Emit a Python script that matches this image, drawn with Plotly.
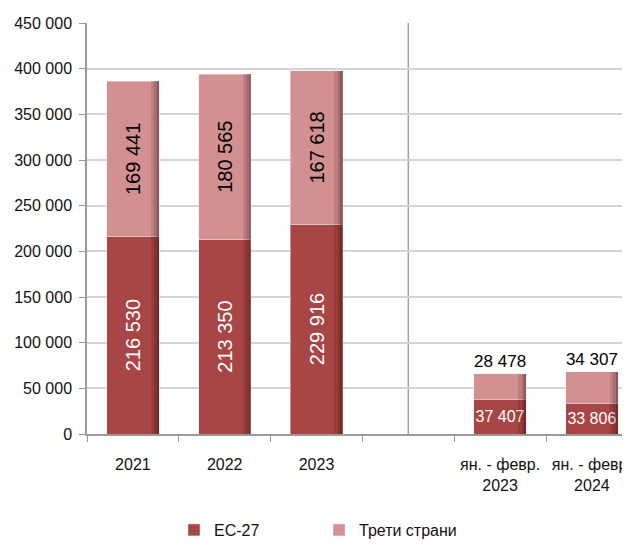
import plotly.graph_objects as go

# --------------------------------------------------------------------------- #
# Data
# --------------------------------------------------------------------------- #
CATEGORIES = ["2021", "2022", "2023", " ", "ян. - февр.<br>2023", "ян. - февр.<br>2024"]

YEARS = ["2021", "2022", "2023"]
EU_YEARS = [216530, 213350, 229916]
THIRD_YEARS = [169441, 180565, 167618]

PERIODS = ["ян. - февр.<br>2023", "ян. - февр.<br>2024"]
EU_PERIODS = [37407, 33806]
THIRD_PERIODS = [28478, 34307]

SEPARATOR = " "

# --------------------------------------------------------------------------- #
# Style
# --------------------------------------------------------------------------- #
EU_COLOR = "#a84545"
THIRD_COLOR = "#d39090"
GRID_COLOR = "#d4d4d4"
AXIS_COLOR = "#9a9a9a"
FONT = "Liberation Sans, Arial, sans-serif"
TEXT_COLOR = "#111111"
BAR_WIDTH = 0.57
PAGE_MARGIN = 8   # default <body> margin of the html page
# (width in category units, darkening alpha) of the shading strips on the right bar edge
SHADE_STRIPS = [(0.09, 0.12), (0.05, 0.15), (0.025, 0.2)]


def _fmt(v):
    return f"{v:,}".replace(",", " ")


fig = go.Figure()

# annual bars: rotated labels inside
fig.add_bar(
    x=YEARS, y=EU_YEARS, name="ЕС-27", marker_color=EU_COLOR, width=BAR_WIDTH,
    text=[_fmt(v) for v in EU_YEARS], textposition="inside", textangle=-90,
    insidetextanchor="middle", constraintext="none",
    textfont=dict(family=FONT, size=20, color="white"),
    legendgroup="eu", showlegend=True,
)
# monthly bars: horizontal labels
fig.add_bar(
    x=PERIODS, y=EU_PERIODS, name="ЕС-27", marker_color=EU_COLOR, width=BAR_WIDTH,
    text=[_fmt(v) for v in EU_PERIODS], textposition="inside", textangle=0,
    insidetextanchor="middle", constraintext="none",
    textfont=dict(family=FONT, size=16, color="white"),
    legendgroup="eu", showlegend=False,
)
fig.add_bar(
    x=YEARS, y=THIRD_YEARS, name="Трети страни", marker_color=THIRD_COLOR, width=BAR_WIDTH,
    text=[_fmt(v) for v in THIRD_YEARS], textposition="inside", textangle=-90,
    insidetextanchor="middle", constraintext="none",
    textfont=dict(family=FONT, size=20, color="black"),
    legendgroup="third", showlegend=True,
)
fig.add_bar(
    x=PERIODS, y=THIRD_PERIODS, name="Трети страни", marker_color=THIRD_COLOR, width=BAR_WIDTH,
    text=[_fmt(v) for v in THIRD_PERIODS], textposition="outside", textangle=0,
    constraintext="none", cliponaxis=False,
    textfont=dict(family=FONT, size=17, color="black"),
    legendgroup="third", showlegend=False,
)

plot_left, plot_right = 87, 630
cat_px = 91.8
x_range = [-0.5, -0.5 + (plot_right - plot_left) / cat_px]

# darker strips on the right edge of every bar (the "3D" shading of the original);
# each strip level sits on its own hidden overlaying x axis so it stacks on its own
for i, (stripe_w, alpha) in enumerate(SHADE_STRIPS, start=2):
    for xs, eu, third in [(YEARS, EU_YEARS, THIRD_YEARS), (PERIODS, EU_PERIODS, THIRD_PERIODS)]:
        for vals in (eu, third):
            fig.add_bar(
                x=xs, y=vals, xaxis=f"x{i}", width=stripe_w,
                offset=BAR_WIDTH / 2 - stripe_w,
                marker=dict(color=f"rgba(50,0,0,{alpha})", line_width=0),
                showlegend=False, hoverinfo="skip",
            )
    fig.update_layout({f"xaxis{i}": dict(
        type="category", categoryorder="array", categoryarray=CATEGORIES,
        range=x_range, overlaying="x", visible=False,
    )})

# separator between annual and monthly data
sep = CATEGORIES.index(SEPARATOR)
fig.add_shape(
    type="line", xref="x", yref="paper", x0=sep, x1=sep, y0=0, y1=1,
    line=dict(color="#a0a0a0", width=1.5), layer="below",
)

fig.update_layout(
    barmode="stack",
    width=630 - PAGE_MARGIN, height=547 - PAGE_MARGIN,
    margin=dict(l=plot_left - PAGE_MARGIN, r=0, t=23 - PAGE_MARGIN, b=113),
    paper_bgcolor="white", plot_bgcolor="white",
    separators=". ",
    font=dict(family=FONT, size=16, color=TEXT_COLOR),
    legend=dict(
        orientation="h", xref="container", yref="container",
        x=0.5, xanchor="center", y=0.0, yanchor="bottom",
        font=dict(family=FONT, size=16, color=TEXT_COLOR),
        traceorder="normal", itemwidth=30,
        entrywidth=100, entrywidthmode="pixels",
    ),
    xaxis=dict(
        type="category", categoryorder="array", categoryarray=CATEGORIES,
        range=x_range,
        tickson="boundaries", ticks="outside", ticklen=6, tickcolor=AXIS_COLOR,
        showline=True, linecolor=AXIS_COLOR, linewidth=1.5,
        showgrid=False, ticklabelstandoff=15, tickangle=0, automargin=False,
        tickfont=dict(family=FONT, size=16, color=TEXT_COLOR),
    ),
    yaxis=dict(
        range=[0, 450000], dtick=50000, tickformat=",d",
        ticks="outside", ticklen=6, tickcolor=AXIS_COLOR,
        showline=True, linecolor=AXIS_COLOR, linewidth=1.5,
        gridcolor=GRID_COLOR, gridwidth=2, zeroline=False,
        ticklabelstandoff=4, automargin=False,
        tickfont=dict(family=FONT, size=16, color=TEXT_COLOR),
    ),
    showlegend=True,
)

fig.write_html("out.html")
